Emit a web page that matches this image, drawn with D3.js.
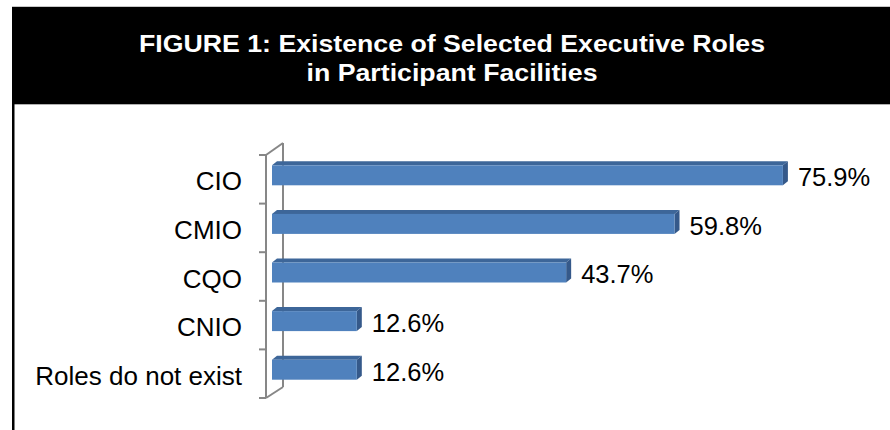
<!DOCTYPE html>
<html>
<head>
<meta charset="utf-8">
<script src="https://cdn.jsdelivr.net/npm/d3@7"></script>
<style>
  body { margin: 0; background: #fff; }
  svg { display: block; }
</style>
</head>
<body>
<div id="chart"></div>
<script>
const titleLines = ["FIGURE 1: Existence of Selected Executive Roles", "in Participant Facilities"];
const roles = ["CIO", "CMIO", "CQO", "CNIO", "Roles do not exist"];
const percents = [75.9, 59.8, 43.7, 12.6, 12.6];

const width = 890;
const height = 430;

const svg = d3.select("#chart")
    .append("svg")
    .attr("width", width)
    .attr("height", height);

// header box
svg.append("line")
    .attr("x1", 12).attr("x2", width)
    .attr("y1", 6.5).attr("y2", 6.5)
    .attr("stroke", "#c8c8c8").attr("stroke-width", 1);
svg.append("rect")
    .attr("x", 12).attr("y", 7)
    .attr("width", width - 12).attr("height", 97)
    .attr("fill", "#000");
svg.append("line")
    .attr("x1", 14).attr("x2", width)
    .attr("y1", 104.5).attr("y2", 104.5)
    .attr("stroke", "#b0b0b0").attr("stroke-width", 1);
svg.append("rect")
    .attr("x", 12).attr("y", 104)
    .attr("width", 2.5).attr("height", height - 104)
    .attr("fill", "#000");

const titleWidths = [626, 291];
svg.selectAll(".title")
    .data(titleLines)
    .enter()
    .append("text")
    .attr("class", "title")
    .attr("x", 452)
    .attr("y", (d, i) => 52 + i * 29)
    .attr("text-anchor", "middle")
    .attr("fill", "#fff")
    .attr("font-family", "'Liberation Sans', Arial, Helvetica, sans-serif")
    .attr("font-weight", "bold")
    .attr("font-size", 24)
    .attr("textLength", (d, i) => titleWidths[i])
    .attr("lengthAdjust", "spacingAndGlyphs")
    .text(d => d);

// scales
const y = d3.scaleBand()
    .domain(roles)
    .range([155, 398])
    .paddingInner(0);

const x = d3.scaleLinear()
    .domain([0, 80])
    .range([272, 810.5]);

const depthX = 17, depthY = 12;   // axis wall depth
const barDx = 5, barDy = 4;       // bar depth
const barH = 20;

// 3d axis wall
const axisX = 266;
const axisColor = "#878787";
const axis = svg.append("g")
    .attr("fill", "none")
    .attr("stroke", axisColor)
    .attr("stroke-width", 2);

const yTop = y.range()[0], yBot = y.range()[1];
axis.append("path")
    .attr("d", `M${axisX},${yTop}L${axisX},${yBot}`);
axis.append("path")
    .attr("d", `M${axisX + depthX},${yTop - depthY}L${axisX + depthX},${yBot - depthY + 1}`);
axis.append("path")
    .attr("d", `M${axisX},${yTop}L${axisX + depthX},${yTop - depthY}`);
axis.append("path")
    .attr("d", `M${axisX},${yBot}L${axisX + depthX},${yBot - depthY + 1}`);

const tickPos = roles.map(r => y(r)).concat([yBot]);
axis.selectAll(".tick")
    .data(tickPos)
    .enter()
    .append("path")
    .attr("d", d => `M${axisX - 7},${d}L${axisX},${d}`);

// bars
const bars = svg.selectAll(".bar")
    .data(roles.map((r, i) => ({ role: r, value: percents[i] })))
    .enter()
    .append("g")
    .attr("class", "bar");

const faceTop = d => y(d.role) + y.bandwidth() / 2 - 4 - barH / 2;

bars.append("path")
    .attr("fill", "#3d6699")
    .attr("d", d => {
        const x0 = x(0), x1 = x(d.value), t = faceTop(d);
        return `M${x0},${t}L${x1},${t}L${x1 + barDx},${t - barDy}L${x0 + barDx},${t - barDy}Z`;
    });

bars.append("path")
    .attr("fill", "#35598a")
    .attr("d", d => {
        const x1 = x(d.value), t = faceTop(d);
        return `M${x1},${t}L${x1 + barDx},${t - barDy}L${x1 + barDx},${t + barH - barDy}L${x1},${t + barH}Z`;
    });

bars.append("rect")
    .attr("x", x(0))
    .attr("y", d => faceTop(d))
    .attr("width", d => x(d.value) - x(0))
    .attr("height", barH)
    .attr("fill", "#4f81bd");

bars.append("text")
    .attr("x", d => x(d.value) + 15)
    .attr("y", d => y(d.role) + y.bandwidth() / 2 - 2)
    .attr("dy", "0.35em")
    .attr("font-family", "'Liberation Sans', Arial, sans-serif")
    .attr("font-size", 25.5)
    .attr("fill", "#000")
    .text(d => d.value.toFixed(1) + "%");

svg.selectAll(".cat")
    .data(roles)
    .enter()
    .append("text")
    .attr("class", "cat")
    .attr("x", 242)
    .attr("y", d => y(d) + y.bandwidth() / 2 + 2)
    .attr("dy", "0.35em")
    .attr("text-anchor", "end")
    .attr("font-family", "'Liberation Sans', Arial, sans-serif")
    .attr("font-size", 26)
    .attr("fill", "#000")
    .text(d => d);
</script>
</body>
</html>
